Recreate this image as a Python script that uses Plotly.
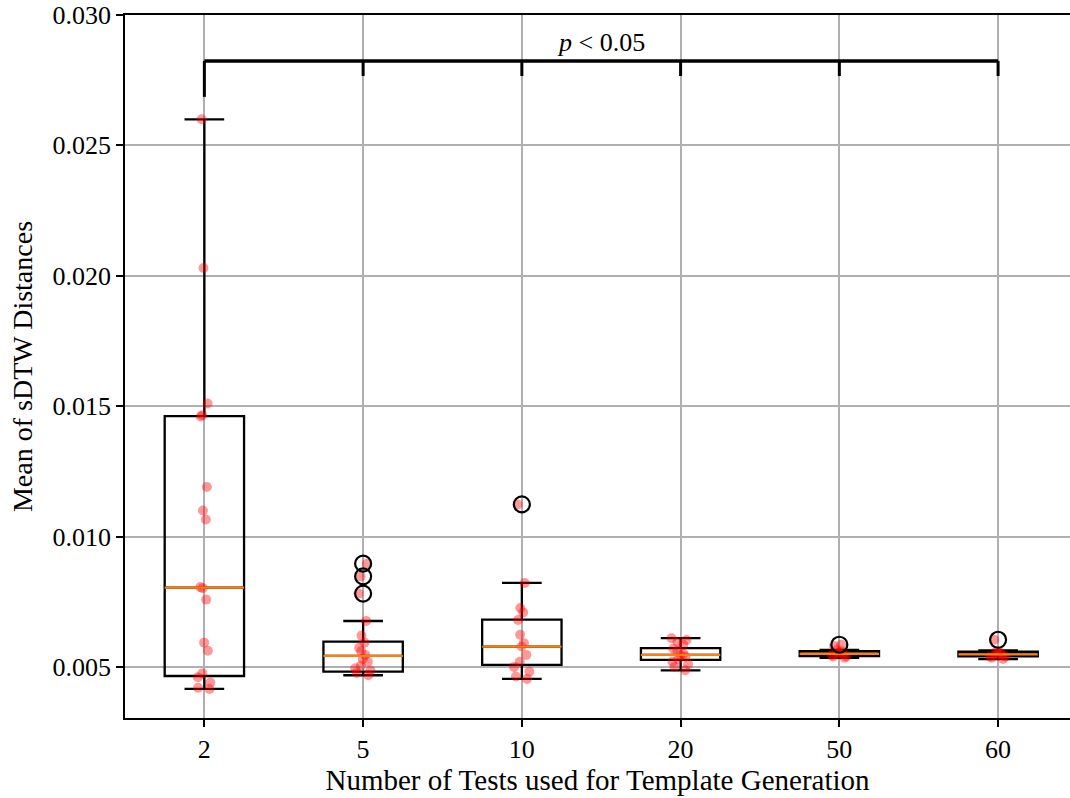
import plotly.graph_objects as go

# ---------------- data ----------------
categories = ["2", "5", "10", "20", "50", "60"]
positions = [1, 2, 3, 4, 5, 6]

g2 = [0.0260, 0.0203, 0.0151, 0.01465, 0.0146, 0.0119, 0.0110, 0.01065, 0.00806,
      0.00802, 0.00758, 0.00593, 0.00562, 0.00475, 0.0046, 0.0044, 0.0042, 0.00415]
g5 = [0.00896, 0.00847, 0.00781, 0.00676, 0.0062, 0.00593, 0.00573, 0.0056, 0.00546,
      0.0053, 0.0052, 0.00504, 0.00495, 0.00486, 0.00477, 0.00468]
g10 = [0.01123, 0.00822, 0.00726, 0.00709, 0.0068, 0.00623, 0.00591, 0.00578, 0.00546,
       0.0052, 0.0050, 0.00482, 0.00463, 0.00454]
g20 = [0.0061, 0.00603, 0.00595, 0.00585, 0.0057, 0.0056, 0.0055, 0.00545, 0.0054,
       0.0053, 0.0052, 0.0051, 0.0050, 0.00487]
g50 = [0.00585, 0.0058, 0.00565, 0.0056, 0.00555, 0.0055, 0.0055, 0.00545, 0.0054,
       0.0054, 0.00535]
g60 = [0.00604, 0.0056, 0.00555, 0.0055, 0.00548, 0.00545, 0.0054, 0.0054, 0.00535,
       0.0053]
groups = [g2, g5, g10, g20, g50, g60]

lower_whisker = [0.00416, 0.00468, 0.00454, 0.00487, 0.00535, 0.00530]
q1_vals = [0.00465, 0.00482, 0.00508, 0.00527, 0.00541, 0.00540]
median_vals = [0.00804, 0.00542, 0.00578, 0.00546, 0.00550, 0.00548]
q3_vals = [0.01462, 0.00597, 0.00681, 0.00572, 0.00560, 0.00558]
upper_whisker = [0.02600, 0.00676, 0.00822, 0.00610, 0.00565, 0.00563]

outlier_pos = [2, 2, 2, 3, 5, 6]
outlier_vals = [0.00896, 0.00847, 0.00781, 0.01123, 0.00585, 0.00604]

bracket_level = 0.02824
bracket_first_drop = 0.02686
bracket_drop = 0.02766
p_text = "<i>p</i> < 0.05"

# ---------------- figure ----------------
FONT = "Liberation Serif"
fig = go.Figure()

# boxes from precomputed statistics
fig.add_trace(go.Box(
    x=positions, q1=q1_vals, median=median_vals, q3=q3_vals,
    lowerfence=lower_whisker, upperfence=upper_whisker,
    width=0.5, whiskerwidth=0.5, orientation="v",
    line=dict(color="black", width=2.3), fillcolor="rgba(0,0,0,0)",
    boxpoints=False, showlegend=False, hoverinfo="skip"))

# orange median lines
mx, my = [], []
for p, m in zip(positions, median_vals):
    mx += [p - 0.25, p + 0.25, None]
    my += [m, m, None]
fig.add_trace(go.Scatter(x=mx, y=my, mode="lines",
                         line=dict(color="#ff7f0e", width=2.2),
                         showlegend=False, hoverinfo="skip"))

# outliers (black open circles)
fig.add_trace(go.Scatter(x=outlier_pos, y=outlier_vals, mode="markers",
                         marker=dict(size=16, color="rgba(0,0,0,0)",
                                     line=dict(color="black", width=2.2)),
                         showlegend=False, hoverinfo="skip"))

# jittered raw points
for p, vals in zip(positions, groups):
    fig.add_trace(go.Box(
        x=[p] * len(vals), y=vals, boxpoints="all", jitter=0.25, pointpos=0,
        width=0.5, line=dict(width=0, color="rgba(0,0,0,0)"),
        fillcolor="rgba(0,0,0,0)",
        marker=dict(color="rgba(255,0,0,0.4)", size=10, line=dict(width=0)),
        showlegend=False, hoverinfo="skip"))

# significance bracket
bx = [positions[0], positions[-1]]
by = [bracket_level, bracket_level]
fig.add_trace(go.Scatter(x=bx, y=by, mode="lines",
                         line=dict(color="black", width=3.5),
                         showlegend=False, hoverinfo="skip"))
tx, ty = [], []
for i, p in enumerate(positions):
    low = bracket_first_drop if i == 0 else bracket_drop
    tx += [p, p, None]
    ty += [bracket_level, low, None]
fig.add_trace(go.Scatter(x=tx, y=ty, mode="lines",
                         line=dict(color="black", width=3),
                         showlegend=False, hoverinfo="skip"))

fig.add_annotation(x=(positions[2] + positions[3]) / 2, y=0.02896, text=p_text,
                   showarrow=False, font=dict(family=FONT, size=26, color="black"),
                   xanchor="center", yanchor="middle")

fig.update_layout(
    width=1070, height=798,
    margin=dict(l=125, r=0, t=15, b=80),
    plot_bgcolor="white", paper_bgcolor="white",
    font=dict(family=FONT, size=26, color="black"),
    boxmode="overlay",
)
fig.update_xaxes(
    range=[0.5, 6.453], tickmode="array", tickvals=positions, ticktext=categories,
    showgrid=True, gridcolor="#b0b0b0", gridwidth=1.5,
    showline=True, linecolor="black", linewidth=1.5, mirror=True,
    ticks="outside", ticklen=7, tickwidth=1.5, tickcolor="black",
    zeroline=False,
    title=dict(text="Number of Tests used for Template Generation",
               font=dict(family=FONT, size=29), standoff=5),
)
fig.update_yaxes(
    range=[0.00304, 0.030], tickmode="array",
    tickvals=[0.005, 0.010, 0.015, 0.020, 0.025, 0.030],
    ticktext=["0.005", "0.010", "0.015", "0.020", "0.025", "0.030"],
    showgrid=True, gridcolor="#b0b0b0", gridwidth=1.5,
    showline=True, linecolor="black", linewidth=1.5, mirror=False,
    ticks="outside", ticklen=7, tickwidth=1.5, tickcolor="black",
    zeroline=False,
    title=dict(text="Mean of sDTW Distances", font=dict(family=FONT, size=28),
               standoff=12),
)

fig.write_html("out.html")
